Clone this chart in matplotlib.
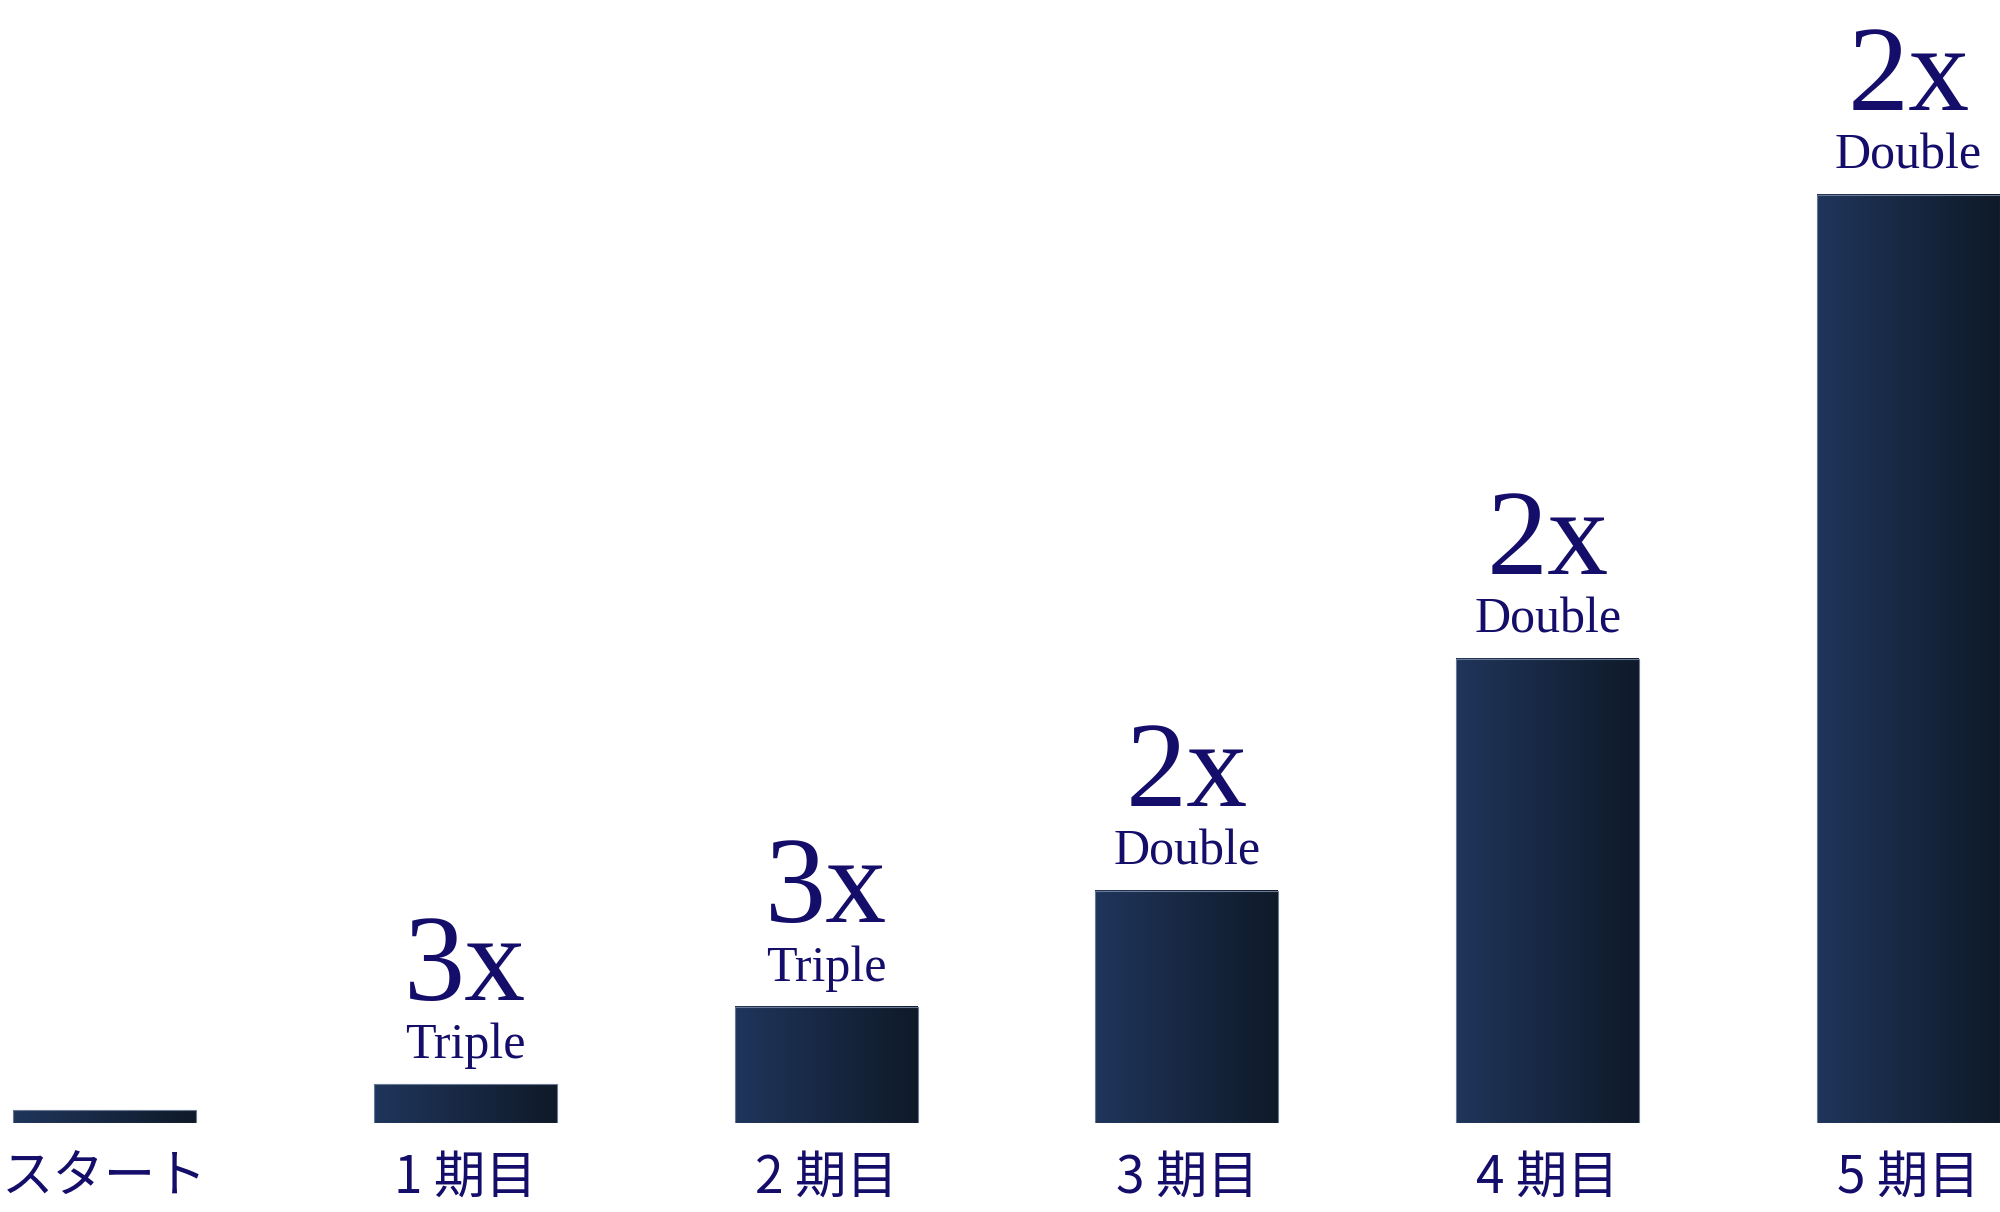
import numpy as np
import matplotlib.pyplot as plt
from matplotlib.colors import LinearSegmentedColormap

# Data
periods = ['スタート', '1 期目', '2 期目', '3 期目', '4 期目', '5 期目']
values = [1, 3, 9, 18, 36, 72]
multipliers = ['', '3x', '3x', '2x', '2x', '2x']
words = ['', 'Triple', 'Triple', 'Double', 'Double', 'Double']

text_color = '#140d69'
grad = LinearSegmentedColormap.from_list('navy', ['#1f355b', '#0f1a29'])

fig = plt.figure(figsize=(20, 12.12), dpi=100)
ax = fig.add_axes([0, 0.0734, 1, 0.9266])

x = np.arange(len(values))
bars = ax.bar(x, values, width=0.507, color='none', edgecolor='#6a7893', linewidth=0.8, zorder=3)

# gradient fill inside each bar
gradient = np.linspace(0, 1, 256).reshape(1, -1)
for b in bars:
    x0, w, h = b.get_x(), b.get_width(), b.get_height()
    ax.imshow(gradient, cmap=grad, aspect='auto', extent=[x0, x0 + w, 0, h], zorder=2)

# labels above bars
for b, m, wd in zip(bars, multipliers, words):
    if not m:
        continue
    cx = b.get_x() + b.get_width() / 2
    top = b.get_height()
    ax.annotate(wd, (cx, top), xytext=(0, 19), textcoords='offset points',
                ha='center', va='baseline', fontsize=36, color=text_color,
                family='Liberation Serif')
    ax.annotate(m, (cx, top), xytext=(0, 61), textcoords='offset points',
                ha='center', va='baseline', fontsize=88, color=text_color,
                family='Liberation Serif')

ax.set_xlim(-0.2895, 5.2535)
ax.set_ylim(0, 87.1)
ax.set_xticks(x)
ax.set_xticklabels(periods, fontsize=37, color=text_color,
                   family=['Noto Sans CJK JP', 'DejaVu Sans'])
ax.tick_params(axis='x', length=0, pad=20)
ax.set_yticks([])
for s in ax.spines.values():
    s.set_visible(False)
ax.patch.set_alpha(0)

fig.savefig('out.png', dpi=100)
